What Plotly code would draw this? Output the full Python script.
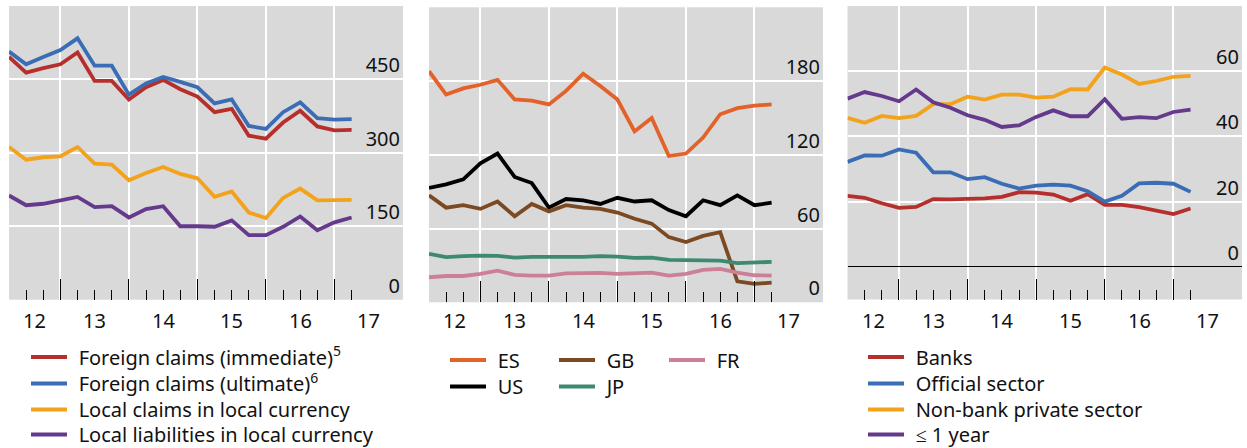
import plotly.graph_objects as go

# ---------------- data ----------------
quarters = ["2012Q1", "2012Q2", "2012Q3", "2012Q4", "2013Q1", "2013Q2", "2013Q3",
            "2013Q4", "2014Q1", "2014Q2", "2014Q3", "2014Q4", "2015Q1", "2015Q2",
            "2015Q3", "2015Q4", "2016Q1", "2016Q2", "2016Q3", "2016Q4", "2017Q1"]
year_labels = ["12", "13", "14", "15", "16", "17"]

# Panel 1
foreign_immediate = [496, 464, 473, 481, 505, 447, 447, 409, 434, 449, 430, 415, 383, 390,
                     335, 329, 362, 386, 354, 346, 347]
foreign_ultimate = [507, 481, 496, 510, 534, 478, 478, 419, 442, 455, 445, 434, 401, 409,
                    355, 349, 383, 403, 371, 368, 369]
local_claims = [312, 286, 291, 293, 312, 278, 276, 244, 259, 271, 257, 248, 210, 221,
                178, 167, 208, 227, 203, 204, 204]
local_liabilities = [213, 193, 196, 203, 210, 189, 191, 168, 185, 191, 150, 150, 149, 162,
                     132, 132, 149, 170, 142, 158, 168]

# Panel 2
es = [188, 169, 174, 177, 181, 165, 164, 161, 172, 186, 176, 165, 139, 150, 119, 121,
      134, 153, 158, 160, 161]
us = [93, 96, 100, 113, 121, 102, 97, 77, 84, 83, 80, 85, 82, 83, 75, 70, 83, 79, 87, 79, 81]
gb = [87, 77, 79, 76, 82, 70, 80, 74, 79, 77, 76, 73, 68, 64, 53, 49, 54, 57, 17, 15, 16]
jp = [39.4, 36.7, 37.5, 38.0, 37.7, 36.4, 36.9, 36.9, 36.4, 36.9, 37.5, 37.2, 36.1, 36.4,
      34.5, 34.2, 34.2, 33.9, 31.8, 32.6, 32.9]
fr = [20.4, 21.4, 21.4, 23.1, 25.8, 22.3, 21.7, 21.7, 23.6, 23.6, 23.9, 23.1, 23.3, 24.2,
      21.7, 23.1, 26.3, 27.2, 24.2, 22.0, 21.7]

# Panel 3
banks = [21.8, 21.2, 19.5, 18.1, 18.4, 20.8, 20.7, 20.8, 21.0, 21.5, 22.9, 22.8, 22.2, 20.3,
         22.3, 19.0, 19.0, 18.3, 17.2, 16.2, 17.9]
official = [32.2, 34.2, 34.1, 36.0, 35.0, 29.0, 29.0, 26.9, 27.5, 25.5, 24.0, 24.9, 25.2, 24.9,
            23.2, 20.0, 21.8, 25.6, 25.8, 25.5, 23.0]
nonbank = [45.7, 44.2, 46.3, 45.6, 46.3, 49.9, 49.9, 52.2, 51.3, 52.8, 52.8, 51.9, 52.2, 54.5,
           54.4, 61.1, 59.0, 56.1, 57.0, 58.3, 58.6]
short_term = [51.6, 53.6, 52.4, 50.8, 54.4, 50.5, 48.8, 46.5, 45.1, 42.9, 43.4, 46.0, 48.0, 46.2,
              46.2, 51.4, 45.4, 45.9, 45.6, 47.5, 48.2]

# ---------------- styling ----------------
W, H = 1247, 448
FONT = "Noto Sans"
TXT = "#111111"
BG = "#d9d9d9"
RED, BLUE, ORANGE, PURPLE = "#b5302d", "#3a6db5", "#f2a31b", "#65398c"
ES_C, US_C, GB_C, JP_C, FR_C = "#e2622a", "#000000", "#7b4a23", "#3e8a70", "#cc8096"
LW = 3.8
GAP = "\u2009\u2009"

# x positions: quarter-end as decimal years
x = [int(q[:4]) + int(q[-1]) / 4 for q in quarters]
XMIN, XMAX = x[0], 2018.0
years = [2012 + i for i in range(len(year_labels))]
label_pos = [(max(y, XMIN) + min(y + 1, XMAX)) / 2 for y in years]
year_ticks = [y for y in years if XMIN < y < XMAX]


def px_x(p):
    return p / W


def px_y(p):
    return 1 - p / H


panels = [
    dict(dom_x=(9, 403), dom_y=(6, 299.7), yr=[0, 600], dt=150, zero=False),
    dict(dom_x=(429, 823), dom_y=(7.3, 302.3), yr=[0, 240], dt=60, zero=False),
    dict(dom_x=(847.5, 1242), dom_y=(6, 299.5), yr=[-10, 80], dt=20, zero=True),
]

# panel, name, values, color, legend-slot (symbol left px, row centre px)
series = [
    (1, "Foreign claims (immediate)<sup>5</sup>", foreign_immediate, RED, (32, 357)),
    (1, "Foreign claims (ultimate)<sup>6</sup>", foreign_ultimate, BLUE, (32, 383.5)),
    (1, "Local claims in local currency", local_claims, ORANGE, (32, 409.5)),
    (1, "Local liabilities in local currency", local_liabilities, PURPLE, (32, 434.5)),
    (2, "ES", es, ES_C, (451, 360)),
    (2, "US", us, US_C, (451, 386.5)),
    (2, "GB", gb, GB_C, (560, 360)),
    (2, "JP", jp, JP_C, (560, 386.5)),
    (2, "FR", fr, FR_C, (670, 360)),
    (3, "Banks", banks, RED, (869, 357)),
    (3, "Official sector", official, BLUE, (869, 383.5)),
    (3, "Non-bank private sector", nonbank, ORANGE, (869, 409.5)),
    (3, "\u2264 1 year", short_term, PURPLE, (869, 434.5)),
]

fig = go.Figure()
layout = dict(
    template="none",
    width=W, height=H,
    margin=dict(l=0, r=0, t=0, b=0, pad=0, autoexpand=False),
    paper_bgcolor="white", plot_bgcolor=BG,
    font=dict(family=FONT, size=20, color=TXT),
    showlegend=True,
)

for k, (p, name, vals, col, slot) in enumerate(series):
    sfx = "" if p == 1 else str(p)
    lg = "legend" if k == 0 else "legend%d" % (k + 1)
    fig.add_trace(go.Scatter(
        x=x, y=vals, mode="lines", name=GAP + name,
        line=dict(color=col, width=LW),
        xaxis="x" + sfx, yaxis="y" + sfx, legend=lg, showlegend=True,
    ))
    layout[lg] = dict(
        bgcolor="rgba(0,0,0,0)", borderwidth=0, xanchor="left", yanchor="middle",
        orientation="v", itemwidth=36,
        x=px_x(slot[0] - 6), y=px_y(slot[1]),
        font=dict(family=FONT, size=20, color=TXT),
    )

annotations = []
for i, pn in enumerate(panels, start=1):
    sfx = "" if i == 1 else str(i)
    dx = [px_x(pn["dom_x"][0]), px_x(pn["dom_x"][1])]
    dy = [px_y(pn["dom_y"][1]), px_y(pn["dom_y"][0])]
    layout["xaxis" + sfx] = dict(
        domain=dx, anchor="y" + sfx, range=[XMIN, XMAX], automargin=False,
        tickmode="array", tickvals=year_ticks, showticklabels=False,
        ticks="inside", ticklen=21, tickwidth=1, tickcolor="black",
        showgrid=True, gridcolor="white", gridwidth=1.6,
        zeroline=False, showline=False,
        minor=dict(tickmode="array", tickvals=x, ticks="inside", ticklen=10,
                   tickwidth=1, tickcolor="black", showgrid=False),
    )
    yr = pn["yr"]
    tv = [v for v in range(0, yr[1], pn["dt"])]
    layout["yaxis" + sfx] = dict(
        domain=dy, anchor="x" + sfx, range=yr, side="right", automargin=False,
        tickmode="array", tickvals=tv, ticks="",
        ticklabelposition="inside top",
        tickfont=dict(size=20, color=TXT),
        showgrid=True, gridcolor="white", gridwidth=1.6,
        zeroline=pn["zero"], zerolinecolor="black", zerolinewidth=1.2,
        showline=False,
    )
    for lp, lt in zip(label_pos, year_labels):
        annotations.append(dict(
            x=lp, y=px_y(320), xref="x" + sfx, yref="paper", text=lt,
            showarrow=False, xanchor="center", yanchor="middle",
            font=dict(size=20, color=TXT, family=FONT),
        ))

layout["annotations"] = annotations
fig.update_layout(**layout)

fig.write_html("out.html", post_script="document.body.style.margin='0';",
               config={"displayModeBar": False})
